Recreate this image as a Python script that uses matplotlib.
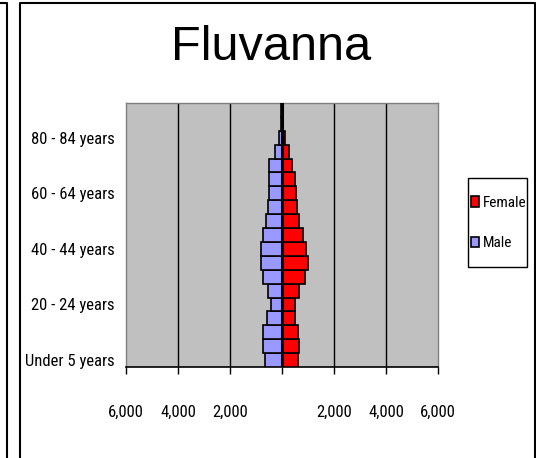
import matplotlib
matplotlib.use('Agg')
import matplotlib.pyplot as plt
import matplotlib.font_manager as fm
from matplotlib.lines import Line2D
from matplotlib.patches import Rectangle
from matplotlib.ticker import FuncFormatter
import numpy as np


# age groups, bottom to top
ages = ['Under 5 years', '5 - 9 years', '10 - 14 years', '15 - 19 years',
        '20 - 24 years', '25 - 29 years', '30 - 34 years', '35 - 39 years',
        '40 - 44 years', '45 - 49 years', '50 - 54 years', '55 - 59 years',
        '60 - 64 years', '65 - 69 years', '70 - 74 years', '75 - 79 years',
        '80 - 84 years', '85 - 89 years', '90 years and over']
male = [640, 720, 720, 565, 410, 540, 720, 795, 795, 720, 615, 540,
        490, 490, 485, 255, 130, 40, 30]
female = [615, 670, 615, 490, 490, 670, 875, 1010, 940, 800, 670, 590,
          540, 490, 385, 255, 130, 30, 20]
xticks = [-6000, -4000, -2000, 0, 2000, 4000, 6000]
shown_rows = [0, 4, 8, 12, 16]

title = 'Fluvanna'


def pick_font(names):
    for n in names:
        try:
            fm.findfont(n, fallback_to_default=False)
            return n
        except Exception:
            pass
    return 'DejaVu Sans'

narrow = pick_font(['Liberation Sans Narrow', 'Arial Narrow', 'Roboto Condensed', 'Liberation Sans'])
regular = pick_font(['Liberation Sans', 'Arial', 'DejaVu Sans'])


W, H = 536, 458
fig = plt.figure(figsize=(W/100, H/100), dpi=100)
ax = fig.add_axes([126/W, 1-367/H, 312/W, 264/H])
ax.set_facecolor('#C0C0C0')

y = np.arange(len(ages))
ax.barh(y, -np.array(male), height=1.0, color='#9999FF',
        edgecolor='black', linewidth=1.2, label='Male', zorder=3)
ax.barh(y, female, height=1.0, color='#FF0000',
        edgecolor='black', linewidth=1.2, label='Female', zorder=3)

# vertical gridlines
for xv in xticks[1:-1]:
    ax.axvline(xv, color='black', linewidth=1, zorder=1)
ax.axvline(0, color='black', linewidth=2.2, zorder=4)

ax.set_xlim(-6000, 6000)
ax.set_ylim(-0.5, len(ages)-0.5)

ax.set_xticks(xticks)
ax.xaxis.set_major_formatter(FuncFormatter(lambda v, p: '' if v == 0 else '{:,.0f}'.format(abs(v))))
ax.set_yticks(shown_rows)
ax.set_yticklabels([ages[i] for i in shown_rows])

ax.tick_params(axis='x', direction='out', length=5, width=1, pad=22,
               labelsize=12, colors='black')
ax.tick_params(axis='y', length=0, pad=8, labelsize=12)
for lab in ax.get_xticklabels() + ax.get_yticklabels():
    lab.set_family(narrow)

for s in ['left', 'top', 'right']:
    ax.spines[s].set_color('#808080')
    ax.spines[s].set_linewidth(1)
ax.spines['bottom'].set_color('black')
ax.spines['bottom'].set_linewidth(1.2)

fig.text(271/W, 1-48/H, title, ha='center', va='center',
         fontsize=35, family=regular)

# legend: frame drawn separately, entries placed inside it
fig.add_artist(Rectangle((468/W, 1-267/H), 59/W, 89/H, transform=fig.transFigure,
                         facecolor='white', edgecolor='black', linewidth=1))
h, l = ax.get_legend_handles_labels()
leg = fig.legend([h[1], h[0]], [l[1], l[0]], loc='center left',
                 bbox_to_anchor=(471/W, 1-223/H), frameon=False,
                 prop={'family': narrow, 'size': 11},
                 handlelength=0.5, handleheight=0.7, handletextpad=0.25,
                 labelspacing=1.75, borderpad=0, borderaxespad=0)

# chart frame and neighbouring chart edge
def fline(xs, ys, lw=1.5):
    fig.add_artist(Line2D([v/W for v in xs], [1-v/H for v in ys],
                          color='black', linewidth=lw))
fline([20, 20, 535, 535], [470, 3, 3, 470])
fline([0, 7, 7], [3, 3, 470])

fig.savefig('out.png', dpi=100)
